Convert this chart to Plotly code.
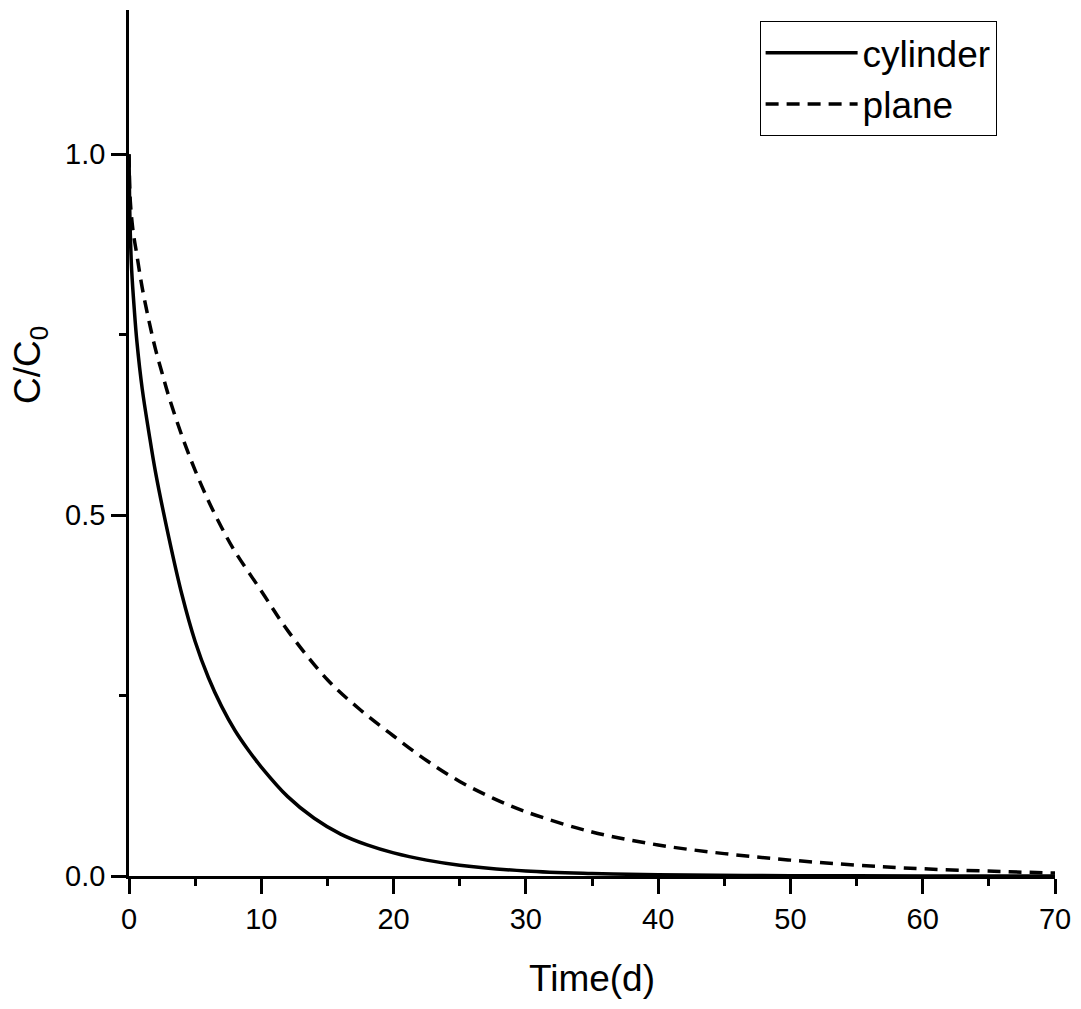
import plotly.graph_objects as go

# Data
cyl_t = [0, 0.05, 0.1, 0.2, 0.4, 0.6, 1.0, 1.5, 2.0, 3.0, 4.0, 5.0, 6.0, 7.0, 8.0, 9.0,
         10, 12, 14, 16, 18, 20, 22.5, 25, 30, 35, 40, 50, 60, 70]
cyl_c = [1.0, 0.93, 0.89, 0.84, 0.785, 0.74, 0.675, 0.615, 0.56, 0.47, 0.39, 0.325, 0.275,
         0.235, 0.202, 0.175, 0.151, 0.110, 0.080, 0.058, 0.043, 0.032, 0.022, 0.015,
         0.007, 0.0035, 0.0017, 0.0005, 0.0001, 0.0]

plane_t = [0, 0.1, 0.3, 0.6, 1.0, 1.5, 2.0, 2.5, 3.0, 4.0, 5.0, 6.0, 7.0, 8.0, 10, 12,
           15, 17.5, 20, 22.5, 25, 27.5, 30, 35, 40, 45, 50, 55, 60, 70]
plane_c = [1.0, 0.935, 0.895, 0.86, 0.815, 0.77, 0.73, 0.697, 0.665, 0.61, 0.562, 0.52,
           0.483, 0.45, 0.395, 0.34, 0.272, 0.230, 0.194, 0.160, 0.131, 0.108, 0.089,
           0.061, 0.043, 0.031, 0.022, 0.015, 0.010, 0.004]

FONT = "Arial, Liberation Sans, sans-serif"

fig = go.Figure()
fig.add_trace(go.Scatter(x=cyl_t, y=cyl_c, mode="lines", name="cylinder",
                         line=dict(color="black", width=3.5, shape="spline", smoothing=1.0)))
fig.add_trace(go.Scatter(x=plane_t, y=plane_c, mode="lines", name="plane",
                         line=dict(color="black", width=3.5, dash="13px,8px",
                                   shape="spline", smoothing=1.0)))

axis_common = dict(showgrid=False, zeroline=False, showline=True, linecolor="black",
                   linewidth=2.5, ticks="outside", ticklen=15, tickwidth=2.5,
                   tickcolor="black", tickfont=dict(family=FONT, size=29, color="black"))

fig.update_xaxes(range=[0, 70], dtick=10, tick0=0,
                 minor=dict(dtick=5, ticks="outside", ticklen=7, tickwidth=2.5, tickcolor="black"),
                 title=dict(text="Time(d)", font=dict(family=FONT, size=37, color="black"),
                            standoff=32),
                 **axis_common)
fig.update_yaxes(range=[0, 1.2], dtick=0.5, tick0=0, tickformat=".1f",
                 minor=dict(dtick=0.25, ticks="outside", ticklen=7, tickwidth=2.5, tickcolor="black"),
                 **axis_common)

fig.add_annotation(text="C/C<sub>0</sub>", xref="paper", yref="paper",
                   x=-0.107, y=0.59, xanchor="center", yanchor="middle",
                   textangle=-90, showarrow=False,
                   font=dict(family=FONT, size=37, color="black"))

fig.update_layout(
    width=1081, height=1009,
    margin=dict(l=129, r=22, t=10, b=133),
    paper_bgcolor="white", plot_bgcolor="white",
    showlegend=True,
    legend=dict(x=0.681, y=0.987, xanchor="left", yanchor="top",
                bordercolor="black", borderwidth=1, bgcolor="white",
                font=dict(family=FONT, size=37, color="black"),
                itemwidth=92, tracegroupgap=0),
)

fig.write_html("out.html")
